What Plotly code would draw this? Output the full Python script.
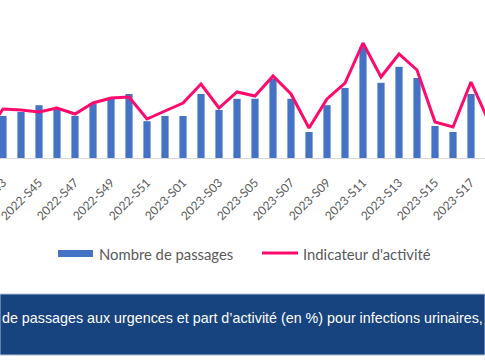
import plotly.graph_objects as go

weeks = ["2022-S42", "2022-S43", "2022-S44", "2022-S45", "2022-S46", "2022-S47", "2022-S48",
         "2022-S49", "2022-S50", "2022-S51", "2022-S52", "2023-S01", "2023-S02", "2023-S03",
         "2023-S04", "2023-S05", "2023-S06", "2023-S07", "2023-S08", "2023-S09", "2023-S10",
         "2023-S11", "2023-S12", "2023-S13", "2023-S14", "2023-S15", "2023-S16", "2023-S17",
         "2023-S18", "2023-S19"]
passages = [95, 105, 115, 132, 122, 105, 135, 150, 160, 92, 105, 105, 160, 120, 148, 148,
            198, 148, 65, 132, 175, 278, 188, 228, 200, 80, 65, 160, 75, 90]
indicateur = [0.45, 0.98, 0.96, 0.92, 1.00, 0.88, 1.10, 1.20, 1.22, 0.78, 0.94, 1.10, 1.48,
              1.00, 1.32, 1.24, 1.64, 1.28, 0.60, 1.18, 1.50, 2.30, 1.62, 2.08, 1.76, 0.72,
              0.62, 1.52, 0.72, 0.85]
tick_labels = weeks[1::2]

BAR = "#4472C4"
LINE = "#FF0A6C"
GREY = "#595959"

W, H = 485, 360
PLOT_H = 158  # plot area height in px (top margin 0)


def py(px):
    return (PLOT_H - px) / PLOT_H


def pxx(px):
    return px / W


idx = list(range(-1, len(weeks) - 1))  # S43 at 0

fig = go.Figure()
fig.add_trace(go.Bar(x=idx, y=passages, name="Nombre de passages", marker_color=BAR,
                     width=0.4, showlegend=False))
fig.add_trace(go.Scatter(x=idx, y=indicateur, name="Indicateur d'activité", yaxis="y2",
                         mode="lines", line=dict(color=LINE, width=3), showlegend=False))

tick_idx = [idx[weeks.index(t)] for t in tick_labels]

fig.update_layout(
    width=W, height=H,
    margin=dict(l=0, r=0, t=0, b=H - PLOT_H),
    paper_bgcolor="white", plot_bgcolor="white",
    template="none",
    font=dict(family="Lato, Liberation Sans, sans-serif", color=GREY),
    bargap=0.6,
    xaxis=dict(range=[-3 / 18, 482 / 18], tickvals=tick_idx, ticktext=tick_labels,
               tickangle=-45, tickfont=dict(size=12, color=GREY), showgrid=False,
               zeroline=False, showline=True, linecolor="#D9D9D9", linewidth=1,
               ticks="", automargin=False, ticklabeloverflow="allow",
               ticklabelstandoff=12),
    yaxis=dict(range=[0, 395], visible=False, showgrid=False, zeroline=False,
               automargin=False),
    yaxis2=dict(range=[0, 3.16], overlaying="y", side="right", visible=False,
                showgrid=False, zeroline=False, automargin=False),
    showlegend=False,
)

# manual legend
fig.add_shape(type="rect", xref="paper", yref="paper", x0=pxx(58), x1=pxx(93),
              y0=py(250), y1=py(257), fillcolor=BAR, line=dict(width=0))
fig.add_annotation(xref="paper", yref="paper", x=pxx(97), y=py(253.5), xanchor="left",
                   yanchor="middle", text="Nombre de passages", showarrow=False,
                   font=dict(size=14.8, color=GREY, family="Lato, sans-serif"))
fig.add_shape(type="line", xref="paper", yref="paper", x0=pxx(262), x1=pxx(298),
              y0=py(253), y1=py(253), line=dict(color=LINE, width=3))
fig.add_annotation(xref="paper", yref="paper", x=pxx(301), y=py(253.5), xanchor="left",
                   yanchor="middle", text="Indicateur d'activité", showarrow=False,
                   font=dict(size=14.8, color=GREY, family="Lato, sans-serif"))

# bottom banner
fig.add_shape(type="rect", xref="paper", yref="paper", x0=0, x1=1, y0=py(294), y1=py(355),
              fillcolor="#17437E", line=dict(color="#AFC0D6", width=1))
fig.add_annotation(xref="paper", yref="paper", x=pxx(0), y=py(318), xanchor="left",
                   yanchor="middle",
                   text="de passages aux urgences et part d’activité (en %) pour infections urinaires,",
                   showarrow=False,
                   font=dict(size=14.3, color="white", family="Liberation Sans, Arial, sans-serif"))

fig.write_html("out.html", config={"displayModeBar": False},
               post_script="document.body.style.margin='0';document.body.style.overflow='hidden';")
